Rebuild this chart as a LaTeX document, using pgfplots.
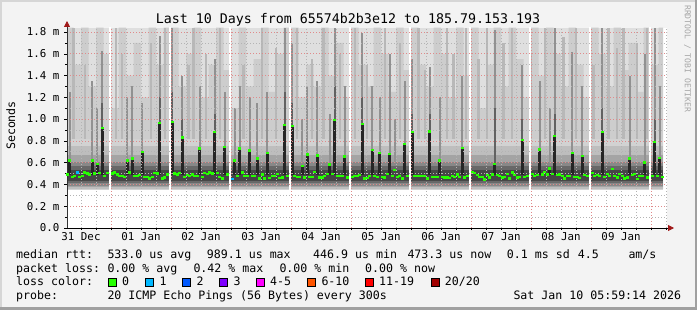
\documentclass[border=0pt]{standalone}
\usepackage{fontspec}
\setmainfont{DejaVu Sans Mono}
\usepackage{pgfplots}
\pgfplotsset{compat=1.18}
\usetikzlibrary{arrows.meta}

\definecolor{bgc}{HTML}{F3F3F3}
\definecolor{shadea}{HTML}{D6D6D6}
\definecolor{shadeb}{HTML}{A0A0A0}
\definecolor{arrowred}{HTML}{A01818}
\definecolor{mgrid}{HTML}{E08A8A}
\definecolor{ngrid}{HTML}{B4B4B4}
\definecolor{s0}{HTML}{DFDFDF}
\definecolor{s1}{HTML}{CDCDCD}
\definecolor{s2}{HTML}{B8B8B8}
\definecolor{s3}{HTML}{919191}
\definecolor{s4}{HTML}{626262}
\definecolor{b0}{HTML}{D2D2D2}
\definecolor{b1}{HTML}{BEBEBE}
\definecolor{b2}{HTML}{A4A4A4}
\definecolor{b3}{HTML}{888888}
\definecolor{b4}{HTML}{686868}
\definecolor{b5}{HTML}{464646}
\definecolor{spk}{HTML}{262626}
\definecolor{l0}{HTML}{26FF00}
\definecolor{l1}{HTML}{00B8FF}
\definecolor{l2}{HTML}{0059FF}
\definecolor{l3}{HTML}{7E00FF}
\definecolor{l4}{HTML}{FF00FF}
\definecolor{l6}{HTML}{FF5500}
\definecolor{l11}{HTML}{FF0000}
\definecolor{l20}{HTML}{A10000}

\newcommand\lf{\fontsize{11.6bp}{13bp}\selectfont}

\begin{document}
\begin{tikzpicture}
\path[use as bounding box] (0,0) rectangle (697bp,310bp);
\fill[bgc] (0,0) rectangle (697bp,310bp);
\fill[shadea] (0,0) rectangle (2bp,310bp);
\fill[shadea] (0,308bp) rectangle (697bp,310bp);
\fill[shadeb] (694.5bp,0) rectangle (697bp,310bp);
\fill[shadeb] (0,0) rectangle (697bp,2.5bp);

\begin{axis}[
  at={(67bp,82bp)}, anchor=south west,
  scale only axis, width=600bp, height=200bp,
  xmin=6.4, xmax=246.4, ymin=0, ymax=1.837,
  axis x line*=bottom, axis y line*=left,
  x axis line style={black, line width=0.8bp, -{Triangle[length=6bp,width=6bp,color=arrowred]}, shorten >=-7bp},
  y axis line style={black!80, line width=0.8bp, -{Triangle[length=6bp,width=6bp,color=arrowred]}, shorten >=-7bp},
  axis background/.style={fill=white},
  axis on top,
  unbounded coords=jump,
  xtick={24,48,...,240}, xticklabels={},
  minor xtick={6,12,18,30,36,42,54,60,66,78,84,90,102,108,114,126,132,138,150,156,162,174,180,186,198,204,210,222,228,234,246},
  extra x ticks={12,36,60,84,108,132,156,180,204,228},
  extra x tick labels={31 Dec,01 Jan,02 Jan,03 Jan,04 Jan,05 Jan,06 Jan,07 Jan,08 Jan,09 Jan},
  extra x tick style={grid=none, major tick length=0pt},
  ytick={0,0.2,0.4,0.6,0.8,1.0,1.2,1.4,1.6,1.8},
  yticklabels={0.0,0.2 m,0.4 m,0.6 m,0.8 m,1.0 m,1.2 m,1.4 m,1.6 m,1.8 m},
  minor ytick={0.1,0.3,0.5,0.7,0.9,1.1,1.3,1.5,1.7},
  grid=both,
  major grid style={mgrid, line width=0.7bp, dash pattern=on 1bp off 2bp},
  minor grid style={ngrid, line width=0.7bp, dash pattern=on 1bp off 2bp},
  tick align=outside,
  major tick length=2.5bp, minor tick length=2bp,
  tick style={black, line width=0.6bp},
  tick label style={font=\fontsize{10.8bp}{12bp}\selectfont, inner sep=0pt},
  xticklabel style={anchor=base, yshift=-12.7bp},
  yticklabel style={anchor=base east, xshift=-5bp, yshift=-3.8bp},
]
% base smoke
\addplot[fill=s0, draw=none] coordinates {(6.4,0.345) (244.8,0.345) (244.8,1.837) (6.4,1.837)} --cycle;
% variation of upper smoke
\addplot[fill=s1, draw=none, const plot] coordinates {(6.4,0.36) (6.4,1.84) (9,1.5) (12,1.84) (15,1.3) (18,1.84) (21,1.6) (24,1.1) (27,1.84) (30,1.4) (33,1.7) (36,1.2) (39,1.84) (42,1.5) (45,1.84) (48,1.84) (51,1.3) (54,1.6) (57,1.84) (60,1.2) (63,1.5) (66,1.84) (69,1.45) (72,1.1) (75,1.84) (78,1.3) (81,1.55) (84,1.84) (87,1.25) (90,1.6) (93,1.84) (96,1.84) (99,1.2) (102,1.5) (105,1.3) (108,1.84) (111,1.4) (114,1.7) (117,1.2) (120,1.84) (123,1.5) (126,1.3) (129,1.84) (132,1.6) (135,1.25) (138,1.84) (141,1.45) (144,1.84) (147,1.5) (150,1.3) (153,1.84) (156,1.6) (159,1.2) (162,1.84) (165,1.4) (168,1.84) (171,1.1) (174,1.5) (177,1.84) (180,1.3) (183,1.84) (186,1.55) (189,1.2) (192,1.84) (195,1.4) (198,1.84) (201,1.6) (204,1.3) (207,1.84) (210,1.5) (213,1.2) (216,1.84) (219,1.6) (222,1.3) (225,1.84) (228,1.45) (231,1.7) (234,1.25) (237,1.84) (240,1.5) (243,1.84) (244.8,1.84) (244.8,0.36)} --cycle;
% lighter stripes
\addplot[s2, line width=2.3bp] coordinates {(9,0.6) (9,1.84) (9,nan) (13.5,0.6) (13.5,1.5) (13.5,nan) (26,0.6) (26,1.84) (26,nan) (28.5,0.6) (28.5,1.6) (28.5,nan) (40,0.6) (40,1.7) (40,nan) (45.5,0.6) (45.5,1.84) (45.5,nan) (55,0.6) (55,1.5) (55,nan) (57,0.6) (57,1.84) (57,nan) (62,0.6) (62,1.6) (62,nan) (67.5,0.6) (67.5,1.84) (67.5,nan) (77,0.6) (77,1.5) (77,nan) (84.5,0.6) (84.5,1.84) (84.5,nan) (90,0.6) (90,1.65) (90,nan) (98.5,0.6) (98.5,1.84) (98.5,nan) (104.5,0.6) (104.5,1.55) (104.5,nan) (109,0.6) (109,1.84) (109,nan) (115.5,0.6) (115.5,1.6) (115.5,nan) (121.5,0.6) (121.5,1.84) (121.5,nan) (126.5,0.6) (126.5,1.5) (126.5,nan) (133.5,0.6) (133.5,1.84) (133.5,nan) (139.5,0.6) (139.5,1.7) (139.5,nan) (147,0.6) (147,1.84) (147,nan) (149.5,0.6) (149.5,1.45) (149.5,nan) (158.5,0.6) (158.5,1.84) (158.5,nan) (161,0.6) (161,1.6) (161,nan) (166,0.6) (166,1.84) (166,nan) (171,0.6) (171,1.55) (171,nan) (174.5,0.6) (174.5,1.84) (174.5,nan) (181,0.6) (181,1.7) (181,nan) (184.5,0.6) (184.5,1.84) (184.5,nan) (192,0.6) (192,1.6) (192,nan) (197.5,0.6) (197.5,1.84) (197.5,nan) (205,0.6) (205,1.75) (205,nan) (210,0.6) (210,1.84) (210,nan) (217,0.6) (217,1.5) (217,nan) (223,0.6) (223,1.84) (223,nan) (226.5,0.6) (226.5,1.65) (226.5,nan) (229,0.6) (229,1.84) (229,nan) (234.5,0.6) (234.5,1.7) (234.5,nan) (238.5,0.6) (238.5,1.84)};
% dense band around the median
\addplot[fill=b0, draw=none] coordinates {(6.4,0.35) (244.8,0.35) (244.8,0.82) (6.4,0.82)} --cycle;
\addplot[fill=b1, draw=none] coordinates {(6.4,0.362) (244.8,0.362) (244.8,0.75) (6.4,0.75)} --cycle;
\addplot[fill=b2, draw=none] coordinates {(6.4,0.375) (244.8,0.375) (244.8,0.67) (6.4,0.67)} --cycle;
\addplot[fill=b3, draw=none] coordinates {(6.4,0.39) (244.8,0.39) (244.8,0.61) (6.4,0.61)} --cycle;
\addplot[fill=b4, draw=none] coordinates {(6.4,0.41) (244.8,0.41) (244.8,0.57) (6.4,0.57)} --cycle;
\addplot[fill=b5, draw=none] coordinates {(6.4,0.43) (244.8,0.43) (244.8,0.535) (6.4,0.535)} --cycle;
% medium stripes above spikes
\addplot[s3, line width=2.3bp] coordinates {(7.5,0.6) (7.5,1.25) (7.5,nan) (16.5,0.6) (16.5,1.35) (16.5,nan) (18.5,0.6) (18.5,1.1) (18.5,nan) (20.5,0.6) (20.5,1.63) (20.5,nan) (30.5,0.6) (30.5,1.2) (30.5,nan) (32.5,0.6) (32.5,1.3) (32.5,nan) (36.5,0.6) (36.5,1.15) (36.5,nan) (43.5,0.6) (43.5,1.76) (43.5,nan) (48.5,0.6) (48.5,1.84) (48.5,nan) (52.5,0.6) (52.5,1.4) (52.5,nan) (59.5,0.6) (59.5,1.3) (59.5,nan) (65.5,0.6) (65.5,1.55) (65.5,nan) (69.5,0.6) (69.5,1.25) (69.5,nan) (73.5,0.6) (73.5,1.1) (73.5,nan) (75.5,0.6) (75.5,1.3) (75.5,nan) (79.5,0.6) (79.5,1.2) (79.5,nan) (82.5,0.6) (82.5,1.15) (82.5,nan) (86.5,0.6) (86.5,1.25) (86.5,nan) (93.5,0.6) (93.5,1.84) (93.5,nan) (96.5,0.6) (96.5,1.7) (96.5,nan) (100.5,0.6) (100.5,1.0) (100.5,nan) (102.5,0.6) (102.5,1.3) (102.5,nan) (106.5,0.6) (106.5,1.35) (106.5,nan) (111.5,0.6) (111.5,1.05) (111.5,nan) (113.5,0.6) (113.5,1.84) (113.5,nan) (117.5,0.6) (117.5,1.3) (117.5,nan) (124.5,0.6) (124.5,1.79) (124.5,nan) (128.5,0.6) (128.5,1.3) (128.5,nan) (131.5,0.6) (131.5,1.2) (131.5,nan) (135.5,0.6) (135.5,1.6) (135.5,nan) (137.5,0.6) (137.5,1.0) (137.5,nan) (141.5,0.6) (141.5,1.35) (141.5,nan) (144.5,0.6) (144.5,1.55) (144.5,nan) (151.5,0.6) (151.5,1.48) (151.5,nan) (155.5,0.6) (155.5,1.2) (155.5,nan) (164.5,0.6) (164.5,1.4) (164.5,nan) (177.5,0.6) (177.5,1.82) (177.5,nan) (188.5,0.6) (188.5,1.5) (188.5,nan) (195.5,0.6) (195.5,1.35) (195.5,nan) (199.5,0.6) (199.5,1.1) (199.5,nan) (201.5,0.6) (201.5,1.84) (201.5,nan) (208.5,0.6) (208.5,1.62) (208.5,nan) (212.5,0.6) (212.5,1.3) (212.5,nan) (220.5,0.6) (220.5,1.84) (220.5,nan) (231.5,0.6) (231.5,1.4) (231.5,nan) (237.5,0.6) (237.5,1.6) (237.5,nan) (241.5,0.6) (241.5,1.84) (241.5,nan) (243.5,0.6) (243.5,1.3)};
% darker part just above the high medians
\addplot[s4, line width=2.3bp] coordinates {(20.5,0.6) (20.5,1.15) (20.5,nan) (43.5,0.6) (43.5,1.2) (43.5,nan) (48.5,0.6) (48.5,1.25) (48.5,nan) (52.5,0.6) (52.5,1.0) (52.5,nan) (65.5,0.6) (65.5,1.05) (65.5,nan) (93.5,0.6) (93.5,1.25) (93.5,nan) (96.5,0.6) (96.5,1.15) (96.5,nan) (113.5,0.6) (113.5,1.3) (113.5,nan) (124.5,0.6) (124.5,1.2) (124.5,nan) (144.5,0.6) (144.5,1.05) (144.5,nan) (151.5,0.6) (151.5,1.05) (151.5,nan) (177.5,0.6) (177.5,1.1) (177.5,nan) (188.5,0.6) (188.5,1.0) (188.5,nan) (201.5,0.6) (201.5,1.05) (201.5,nan) (220.5,0.6) (220.5,1.1) (220.5,nan) (241.5,0.6) (241.5,1.0)};
% dark spikes below high medians
\addplot[spk, line width=2.6bp] coordinates {(7.5,0.49) (7.5,0.63) (7.5,nan) (16.5,0.49) (16.5,0.63) (16.5,nan) (18.5,0.49) (18.5,0.60) (18.5,nan) (20.5,0.49) (20.5,0.93) (20.5,nan) (30.5,0.49) (30.5,0.63) (30.5,nan) (32.5,0.49) (32.5,0.65) (32.5,nan) (36.5,0.49) (36.5,0.71) (36.5,nan) (43.5,0.49) (43.5,0.977) (43.5,nan) (48.5,0.49) (48.5,0.985) (48.5,nan) (52.5,0.49) (52.5,0.84) (52.5,nan) (59.5,0.49) (59.5,0.74) (59.5,nan) (65.5,0.49) (65.5,0.89) (65.5,nan) (69.5,0.49) (69.5,0.755) (69.5,nan) (73.5,0.49) (73.5,0.63) (73.5,nan) (75.5,0.49) (75.5,0.74) (75.5,nan) (79.5,0.49) (79.5,0.72) (79.5,nan) (82.5,0.49) (82.5,0.65) (82.5,nan) (86.5,0.49) (86.5,0.70) (86.5,nan) (93.5,0.49) (93.5,0.956) (93.5,nan) (96.5,0.49) (96.5,0.945) (96.5,nan) (100.5,0.49) (100.5,0.58) (100.5,nan) (102.5,0.49) (102.5,0.685) (102.5,nan) (106.5,0.49) (106.5,0.675) (106.5,nan) (111.5,0.49) (111.5,0.595) (111.5,nan) (113.5,0.49) (113.5,1.0) (113.5,nan) (117.5,0.49) (117.5,0.665) (117.5,nan) (124.5,0.49) (124.5,0.965) (124.5,nan) (128.5,0.49) (128.5,0.726) (128.5,nan) (131.5,0.49) (131.5,0.70) (131.5,nan) (135.5,0.49) (135.5,0.69) (135.5,nan) (141.5,0.49) (141.5,0.784) (141.5,nan) (144.5,0.49) (144.5,0.89) (144.5,nan) (151.5,0.49) (151.5,0.895) (151.5,nan) (155.5,0.49) (155.5,0.63) (155.5,nan) (164.5,0.49) (164.5,0.747) (164.5,nan) (177.5,0.49) (177.5,0.60) (177.5,nan) (188.5,0.49) (188.5,0.82) (188.5,nan) (195.5,0.49) (195.5,0.73) (195.5,nan) (199.5,0.49) (199.5,0.555) (199.5,nan) (201.5,0.49) (201.5,0.855) (201.5,nan) (208.5,0.49) (208.5,0.70) (208.5,nan) (212.5,0.49) (212.5,0.67) (212.5,nan) (220.5,0.49) (220.5,0.89) (220.5,nan) (231.5,0.49) (231.5,0.65) (231.5,nan) (237.5,0.49) (237.5,0.61) (237.5,nan) (241.5,0.49) (241.5,0.80) (241.5,nan) (243.5,0.49) (243.5,0.653)};
% white gaps at midnight
\addplot[white, line width=1.8bp] coordinates {(23.6,0.3) (23.6,1.9) (23.6,nan) (47.6,0.3) (47.6,1.9) (47.6,nan) (71.6,0.3) (71.6,1.9) (71.6,nan) (95.6,0.3) (95.6,1.9) (95.6,nan) (119.6,0.3) (119.6,1.9) (119.6,nan) (143.6,0.3) (143.6,1.9) (143.6,nan) (167.6,0.3) (167.6,1.9) (167.6,nan) (191.6,0.3) (191.6,1.9) (191.6,nan) (215.6,0.3) (215.6,1.9) (215.6,nan) (239.6,0.3) (239.6,1.9)};
% median rtt, loss 0
\addplot[only marks, mark=-, mark size=1.4bp, mark options={l0, line width=2.4bp}] coordinates {
(6.5,0.49) (7.5,0.62) (8.5,0.47) (9.5,0.48) (11.5,0.47) (12.5,0.48) (13.5,0.51) (14.5,0.50) (15.5,0.49) (16.5,0.62) (17.5,0.50) (18.5,0.59) (19.5,0.505) (20.5,0.92) (21.5,0.48) (22.5,0.505)
(24.5,0.50) (25.5,0.51) (26.5,0.49) (27.5,0.48) (28.5,0.475) (29.5,0.47) (30.5,0.62) (31.5,0.51) (32.5,0.64) (33.5,0.48) (34.5,0.48) (35.5,0.485) (36.5,0.70) (37.5,0.47) (38.5,0.47) (39.5,0.455) (40.5,0.47) (41.5,0.505) (42.5,0.50) (43.5,0.967) (44.5,0.455) (45.5,0.465) (46.5,0.49)
(48.5,0.975) (49.5,0.50) (50.5,0.49) (51.5,0.505) (52.5,0.83) (53.5,0.47) (54.5,0.485) (55.5,0.48) (56.5,0.49) (57.5,0.475) (58.5,0.475) (59.5,0.73) (60.5,0.47) (61.5,0.505) (62.5,0.495) (63.5,0.51) (64.5,0.50) (65.5,0.88) (66.5,0.505) (67.5,0.47) (68.5,0.455) (69.5,0.745) (70.5,0.49)
(73.5,0.62) (74.5,0.48) (75.5,0.73) (76.5,0.51) (77.5,0.48) (78.5,0.475) (79.5,0.71) (80.5,0.475) (81.5,0.475) (82.5,0.64) (83.5,0.455) (84.5,0.49) (85.5,0.455) (86.5,0.69) (87.5,0.46) (88.5,0.475) (89.5,0.48) (90.5,0.495) (91.5,0.46) (92.5,0.465) (93.5,0.946) (94.5,0.48)
(96.5,0.935) (97.5,0.48) (98.5,0.47) (99.5,0.47) (100.5,0.57) (101.5,0.465) (102.5,0.675) (103.5,0.47) (104.5,0.47) (105.5,0.517) (106.5,0.665) (107.5,0.465) (108.5,0.465) (109.5,0.48) (110.5,0.495) (111.5,0.585) (112.5,0.495) (113.5,0.99) (114.5,0.475) (115.5,0.48) (116.5,0.475) (117.5,0.655) (118.5,0.465)
(120.5,0.47) (121.5,0.48) (122.5,0.475) (123.5,0.485) (124.5,0.955) (125.5,0.455) (126.5,0.46) (127.5,0.48) (128.5,0.716) (129.5,0.475) (130.5,0.47) (131.5,0.69) (132.5,0.47) (133.5,0.465) (134.5,0.495) (135.5,0.68) (136.5,0.475) (137.5,0.53) (138.5,0.47) (139.5,0.48) (140.5,0.455) (141.5,0.774) (142.5,0.475)
(144.5,0.88) (145.5,0.475) (146.5,0.475) (147.5,0.475) (148.5,0.475) (149.5,0.475) (150.5,0.455) (151.5,0.885) (152.5,0.47) (153.5,0.47) (154.5,0.47) (155.5,0.62) (156.5,0.47) (157.5,0.465) (158.5,0.465) (159.5,0.46) (160.5,0.475) (161.5,0.47) (162.5,0.49) (163.5,0.47) (164.5,0.737) (165.5,0.465) (166.5,0.475)
(168.5,0.515) (169.5,0.505) (170.5,0.485) (171.5,0.47) (172.5,0.47) (173.5,0.445) (174.5,0.485) (175.5,0.465) (176.5,0.49) (177.5,0.59) (178.5,0.485) (179.5,0.475) (180.5,0.465) (181.5,0.47) (182.5,0.495) (183.5,0.455) (184.5,0.51) (185.5,0.485) (186.5,0.465) (187.5,0.47) (188.5,0.81) (189.5,0.47) (190.5,0.475)
(192.5,0.495) (193.5,0.475) (194.5,0.485) (195.5,0.72) (196.5,0.49) (197.5,0.517) (198.5,0.49) (199.5,0.545) (200.5,0.495) (201.5,0.845) (202.5,0.485) (203.5,0.49) (204.5,0.475) (205.5,0.455) (206.5,0.475) (207.5,0.475) (208.5,0.69) (209.5,0.47) (210.5,0.47) (211.5,0.46) (212.5,0.66) (213.5,0.485) (214.5,0.475)
(216.5,0.505) (217.5,0.475) (218.5,0.485) (219.5,0.475) (220.5,0.88) (221.5,0.47) (222.5,0.495) (223.5,0.475) (224.5,0.54) (225.5,0.475) (226.5,0.465) (227.5,0.495) (228.5,0.475) (229.5,0.455) (230.5,0.465) (231.5,0.64) (232.5,0.485) (233.5,0.495) (234.5,0.45) (235.5,0.475) (236.5,0.475) (237.5,0.60) (238.5,0.465)
(240.5,0.475) (241.5,0.79) (242.5,0.475) (243.5,0.643) (244.5,0.47)
};
% median rtt, loss 1
\addplot[only marks, mark=-, mark size=1.4bp, mark options={l1, line width=2.4bp}] coordinates {(10.5,0.508) (72.5,0.45)};
\end{axis}

\node[anchor=base, inner sep=0pt, font=\fontsize{13.3bp}{15bp}\selectfont] at (348bp,286bp) {Last 10 Days from 65574b2b3e12 to 185.79.153.193};
\node[rotate=90, anchor=base, inner sep=0pt, font=\lf] at (15.2bp,184.5bp) {Seconds};
\node[rotate=-90, anchor=base west, inner sep=0pt, text=black!35, font=\fontsize{8.1bp}{9bp}\selectfont] at (684.8bp,305bp) {RRDTOOL / TOBI OETIKER};

\begin{scope}[every node/.style={anchor=base west, inner sep=0pt, font=\lf}]
\node at (16bp,51.5bp) {median rtt:};
\node at (107.3bp,51.5bp) {533.0 us avg};
\node at (206.7bp,51.5bp) {989.1 us max};
\node at (313bp,51.5bp) {446.9 us min};
\node at (407.3bp,51.5bp) {473.3 us now};
\node at (506.7bp,51.5bp) {0.1 ms sd};
\node at (577.7bp,51.5bp) {4.5};
\node at (628.3bp,51.5bp) {am/s};
\node at (16bp,38bp) {packet loss:};
\node at (107.3bp,38bp) {0.00 \% avg};
\node at (193.3bp,38bp) {0.42 \% max};
\node at (279.3bp,38bp) {0.00 \% min};
\node at (365bp,38bp) {0.00 \% now};
\node at (16bp,24.5bp) {loss color:};
\node at (122bp,24.5bp) {0};
\node at (159.3bp,24.5bp) {1};
\node at (196.5bp,24.5bp) {2};
\node at (233.3bp,24.5bp) {3};
\node at (270bp,24.5bp) {4-5};
\node at (321.3bp,24.5bp) {6-10};
\node at (379bp,24.5bp) {11-19};
\node at (444.7bp,24.5bp) {20/20};
\node at (16bp,11bp) {probe:};
\node at (107.3bp,11bp) {20 ICMP Echo Pings (56 Bytes) every 300s};
\node at (513.3bp,11bp) {Sat Jan 10 05:59:14 2026};
\end{scope}
\begin{scope}[line width=0.8bp]
\filldraw[fill=l0] (108.5bp,23.8bp) rectangle ++(8bp,8bp);
\filldraw[fill=l1] (145.8bp,23.8bp) rectangle ++(8bp,8bp);
\filldraw[fill=l2] (182.8bp,23.8bp) rectangle ++(8bp,8bp);
\filldraw[fill=l3] (219.6bp,23.8bp) rectangle ++(8bp,8bp);
\filldraw[fill=l4] (256.3bp,23.8bp) rectangle ++(8bp,8bp);
\filldraw[fill=l6] (307.5bp,23.8bp) rectangle ++(8bp,8bp);
\filldraw[fill=l11] (365.2bp,23.8bp) rectangle ++(8bp,8bp);
\filldraw[fill=l20] (430.9bp,23.8bp) rectangle ++(8bp,8bp);
\end{scope}
\end{tikzpicture}
\end{document}
